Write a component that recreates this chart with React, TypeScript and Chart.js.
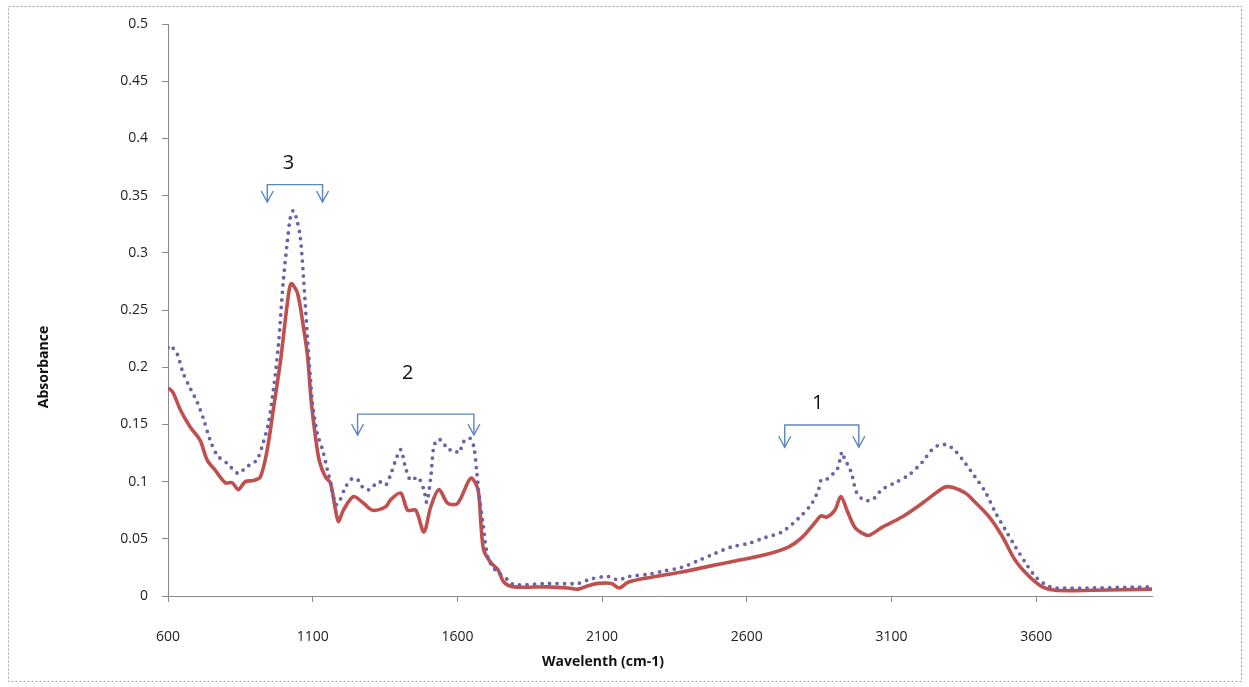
import React, { useEffect, useRef } from "react";
import { Chart, registerables } from "chart.js";

Chart.register(...registerables);

// ---- Data ----
const redWavenumbers = [
  600, 617, 642, 676, 711, 735, 763, 798, 822, 843, 867, 895, 919, 943, 964, 988, 998, 1012, 1025,
  1047, 1068, 1082, 1095, 1109, 1123, 1144, 1161, 1179, 1189, 1206, 1241, 1276, 1307, 1352, 1369,
  1404, 1428, 1456, 1484, 1508, 1536, 1567, 1601, 1646, 1671, 1681, 1691, 1716, 1740, 1761, 1795,
  1913, 1983, 2017, 2052, 2087, 2132, 2159, 2190, 2260, 2374, 2488, 2547, 2662, 2745, 2790, 2835,
  2856, 2876, 2904, 2925, 2946, 2973, 2998, 3022, 3067, 3136, 3206, 3282, 3310, 3355, 3389, 3438,
  3483, 3528, 3576, 3621, 3666, 3795, 4003,
];
const redAbsorbance = [
  0.182, 0.178, 0.163, 0.148, 0.136, 0.119, 0.110, 0.099, 0.099, 0.093, 0.100, 0.101, 0.104, 0.128,
  0.163, 0.204, 0.225, 0.255, 0.273, 0.265, 0.235, 0.210, 0.170, 0.140, 0.118, 0.104, 0.099, 0.075,
  0.065, 0.075, 0.087, 0.081, 0.075, 0.078, 0.084, 0.090, 0.075, 0.075, 0.056, 0.078, 0.093, 0.081,
  0.081, 0.103, 0.093, 0.064, 0.040, 0.029, 0.023, 0.012, 0.008, 0.008, 0.007, 0.006, 0.009, 0.011,
  0.011, 0.007, 0.012, 0.016, 0.021, 0.027, 0.030, 0.036, 0.043, 0.051, 0.064, 0.070, 0.069, 0.075,
  0.087, 0.075, 0.060, 0.055, 0.053, 0.060, 0.069, 0.081, 0.095, 0.095, 0.090, 0.082, 0.069, 0.052,
  0.031, 0.017, 0.008, 0.005, 0.005, 0.006,
];

const purpleWavenumbers = [
  600, 607, 631, 652, 676, 700, 721, 746, 770, 804, 843, 867, 891, 908, 929, 947, 964, 981, 998,
  1012, 1023, 1033, 1044, 1057, 1068, 1082, 1092, 1099, 1116, 1134, 1151, 1161, 1179, 1189, 1213,
  1238, 1258, 1276, 1296, 1328, 1352, 1369, 1387, 1404, 1421, 1439, 1463, 1484, 1494, 1508, 1518,
  1532, 1549, 1567, 1588, 1605, 1622, 1643, 1657, 1667, 1674, 1688, 1705, 1726, 1775, 1795, 1913,
  2017, 2062, 2121, 2156, 2190, 2260, 2315, 2374, 2433, 2488, 2547, 2606, 2662, 2721, 2779, 2825,
  2849, 2856, 2870, 2894, 2911, 2922, 2929, 2939, 2953, 2963, 2980, 3005, 3033, 3067, 3112, 3161,
  3206, 3240, 3265, 3292, 3320, 3355, 3389, 3424, 3459, 3493, 3528, 3563, 3597, 3632, 3666, 4003,
];
const purpleAbsorbance = [
  0.217, 0.219, 0.212, 0.195, 0.182, 0.170, 0.156, 0.136, 0.123, 0.116, 0.107, 0.112, 0.116, 0.119,
  0.134, 0.151, 0.180, 0.218, 0.274, 0.309, 0.331, 0.337, 0.330, 0.314, 0.279, 0.225, 0.191, 0.169,
  0.142, 0.128, 0.110, 0.100, 0.080, 0.081, 0.095, 0.103, 0.101, 0.094, 0.093, 0.100, 0.097, 0.106,
  0.119, 0.128, 0.112, 0.101, 0.104, 0.093, 0.082, 0.104, 0.130, 0.137, 0.135, 0.128, 0.128, 0.125,
  0.135, 0.138, 0.130, 0.108, 0.090, 0.064, 0.034, 0.024, 0.014, 0.010, 0.011, 0.011, 0.015, 0.017,
  0.014, 0.017, 0.019, 0.022, 0.025, 0.031, 0.037, 0.043, 0.046, 0.051, 0.056, 0.068, 0.081, 0.094,
  0.101, 0.101, 0.106, 0.110, 0.119, 0.126, 0.119, 0.113, 0.106, 0.090, 0.084, 0.084, 0.093, 0.099,
  0.106, 0.117, 0.128, 0.132, 0.132, 0.127, 0.116, 0.104, 0.091, 0.073, 0.058, 0.043, 0.029, 0.017,
  0.010, 0.007, 0.008,
];

const xTickValues = [600, 1100, 1600, 2100, 2600, 3100, 3600];
const xTitle = "Wavelenth (cm-1)";
const yTitle = "Absorbance";

// Bracket annotations: [label, from, to] in wavenumbers, with levels in absorbance
const bracketLabels = ["3", "2", "1"];
const bracketFrom = [943, 1255, 2731];
const bracketTo = [1134, 1657, 2987];
const bracketLevel = [0.3596, 0.159, 0.1495];
const bracketTip = [0.3444, 0.1407, 0.13];
const bracketLabelX = [1016, 1428, 2845];
const bracketLabelY = [0.378, 0.195, 0.1687];

const FONT = "'Open Sans', 'Liberation Sans', sans-serif";

const decorPlugin = {
  id: "decor",
  afterDatasetsDraw(chart: any) {
    const { ctx, scales } = chart;
    const x = scales.x;
    const y = scales.y;
    ctx.save();
    bracketLabels.forEach((lab, i) => {
      const x1 = x.getPixelForValue(bracketFrom[i]);
      const x2 = x.getPixelForValue(bracketTo[i]);
      const yb = y.getPixelForValue(bracketLevel[i]);
      const yt = y.getPixelForValue(bracketTip[i]);
      ctx.strokeStyle = "#5A86BE";
      ctx.lineWidth = 1.4;
      ctx.lineJoin = "miter";
      ctx.beginPath();
      ctx.moveTo(x1, yt);
      ctx.lineTo(x1, yb);
      ctx.lineTo(x2, yb);
      ctx.lineTo(x2, yt);
      ctx.stroke();
      [x1, x2].forEach((xe) => {
        ctx.beginPath();
        ctx.moveTo(xe - 6, yt - 11);
        ctx.lineTo(xe, yt);
        ctx.lineTo(xe + 6, yt - 11);
        ctx.stroke();
      });
      ctx.fillStyle = "#111";
      ctx.font = `20px ${FONT}`;
      ctx.textAlign = "center";
      ctx.textBaseline = "middle";
      ctx.fillText(lab, x.getPixelForValue(bracketLabelX[i]), y.getPixelForValue(bracketLabelY[i]));
    });
    ctx.restore();
  },
  afterDraw(chart: any) {
    const { ctx } = chart;
    ctx.save();
    // outer dashed frame
    ctx.strokeStyle = "#A0A0A0";
    ctx.lineWidth = 1;
    ctx.setLineDash([2, 2]);
    ctx.strokeRect(8.5, 6.5, 1233, 675);
    ctx.setLineDash([]);
    // axis titles
    ctx.fillStyle = "#111";
    ctx.font = `bold 14px ${FONT}`;
    ctx.textAlign = "center";
    ctx.textBaseline = "middle";
    ctx.fillText(xTitle, 603, 662);
    ctx.translate(44, 367);
    ctx.rotate(-Math.PI / 2);
    ctx.fillText(yTitle, 0, 0);
    ctx.restore();
  },
};

export default function App() {
  const ref = useRef<HTMLCanvasElement | null>(null);
  useEffect(() => {
    if (!ref.current) return;
    const chart = new Chart(ref.current, {
      type: "line",
      data: {
        datasets: [
          {
            label: "Sample 1",
            data: redWavenumbers.map((w, i) => ({ x: w, y: redAbsorbance[i] })),
            borderColor: "#C0504D",
            borderWidth: 3.6,
            pointRadius: 0,
            tension: 0.3,
            order: 2,
          },
          {
            label: "Sample 2",
            data: purpleWavenumbers.map((w, i) => ({ x: w, y: purpleAbsorbance[i] })),
            borderColor: "#6E62A6",
            borderWidth: 3.8,
            borderDash: [0, 7.5],
            borderCapStyle: "round",
            pointRadius: 0,
            tension: 0.3,
            order: 1,
          },
        ],
      },
      options: {
        animation: false,
        responsive: true,
        maintainAspectRatio: false,
        layout: { padding: { left: 0, right: 97, top: 24, bottom: 0 } },
        plugins: { legend: { display: false }, tooltip: { enabled: false } },
        scales: {
          x: {
            type: "linear",
            min: 600,
            max: 4000,
            afterBuildTicks: (s: any) => {
              s.ticks = xTickValues.map((v) => ({ value: v }));
            },
            afterFit: (s: any) => {
              s.height = 91;
            },
            grid: { drawOnChartArea: false, drawTicks: true, tickLength: 6, color: "#8A8A8A" },
            border: { display: true, color: "#8A8A8A", width: 1 },
            ticks: {
              color: "#222",
              font: { family: FONT, size: 14 },
              padding: 27,
              maxRotation: 0,
              autoSkip: false,
              callback: (v: any) => String(v),
            },
          },
          y: {
            min: 0,
            max: 0.5,
            ticks: {
              stepSize: 0.05,
              color: "#222",
              font: { family: FONT, size: 14 },
              padding: 14,
              callback: (v: any) => String(Math.round(Number(v) * 100) / 100),
            },
            afterFit: (s: any) => {
              s.width = 168;
            },
            grid: { drawOnChartArea: false, drawTicks: true, tickLength: 6, color: "#8A8A8A" },
            border: { display: true, color: "#8A8A8A", width: 1 },
          },
        },
      },
      plugins: [decorPlugin],
    });
    return () => chart.destroy();
  }, []);
  return (
    <div style={{ position: "absolute", left: 0, top: 0, width: 1249, height: 687, background: "#fff" }}>
      <canvas ref={ref} />
    </div>
  );
}
